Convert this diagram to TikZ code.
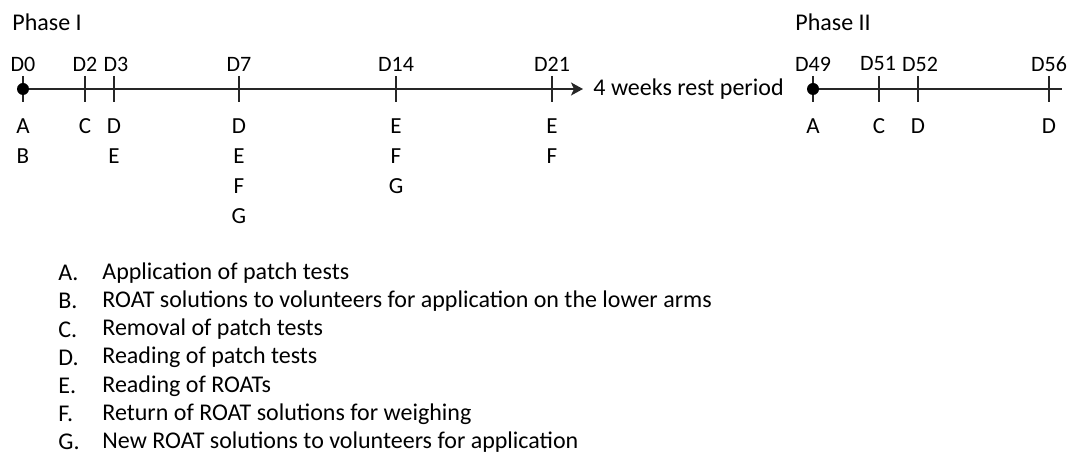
\documentclass[tikz,border=0pt]{standalone}
\usepackage{fontspec}
\setmainfont{Carlito}
\usetikzlibrary{arrows.meta,positioning}
\tikzset{
  axis/.style={line width=0.9pt,black!85},
  daymark/.style={line width=0.6pt,black!85},
  daylabel/.style={inner sep=0pt,font=\fontsize{11}{13}\selectfont},
  evlabel/.style={inner sep=0pt,font=\fontsize{11.5}{13}\selectfont},
  legkey/.style={anchor=west,inner sep=0pt},
  legtext/.style={anchor=west,inner sep=0pt}
}
\begin{document}
\begin{tikzpicture}[x=0.5pt,y=0.5pt,font=\fontsize{12}{14}\selectfont]
\useasboundingbox (0,0) rectangle (1069,460);
% phase titles
\node[legkey] (ph1) at (12,438) {Phase I};
\node[legkey] (ph2) at (795,438) {Phase II};
% time axes
\coordinate (s1) at (23,371);
\coordinate (e1) at (583,371);
\coordinate (s2) at (813,371);
\coordinate (e2) at (1062,371);
\draw[axis,-{Stealth[length=6pt,width=6.5pt,inset=1.5pt]}] (s1) -- (e1);
\draw[axis] (s2) -- (e2);
\node[anchor=west,inner sep=0pt,right=5pt of e1] (rest) {4 weeks rest period};
% days and events
\foreach \x/\d/\lx/\evs in {23/D0/23/{A,B},85/D2/85/{C},114/D3/116/{D,E},239/D7/239/{D,E,F,G},396/D14/396/{E,F,G},552/D21/552/{E,F},813/D49/813/{A},879/D51/878/{C},918/D52/920/{D},1049/D56/1049/{D}}{
  \coordinate (t\d) at (\x,371);
  \draw[daymark] ([yshift=6.5pt]t\d) -- ([yshift=-6.5pt]t\d);
  \node[daylabel] (n\d) at (\lx,396) {\d};
  \foreach \e [count=\i] in \evs
    \node[evlabel] (e\d-\i) at (\x,{364-30*\i}) {\e};
}
\fill (tD0) circle (3pt);
\fill (tD49) circle (3pt);
% legend
\foreach \k/\txt [count=\i] in {A/Application of patch tests,B/ROAT solutions to volunteers for application on the lower arms,C/Removal of patch tests,D/Reading of patch tests,E/Reading of ROATs,F/Return of ROAT solutions for weighing,G/New ROAT solutions to volunteers for application}{
  \node[legkey] (k\k) at (58,{187-28.2*(\i-1)}) {\k.};
  \node[legtext] (d\k) at (102,{187-28.2*(\i-1)}) {\txt};
}
\end{tikzpicture}
\end{document}
